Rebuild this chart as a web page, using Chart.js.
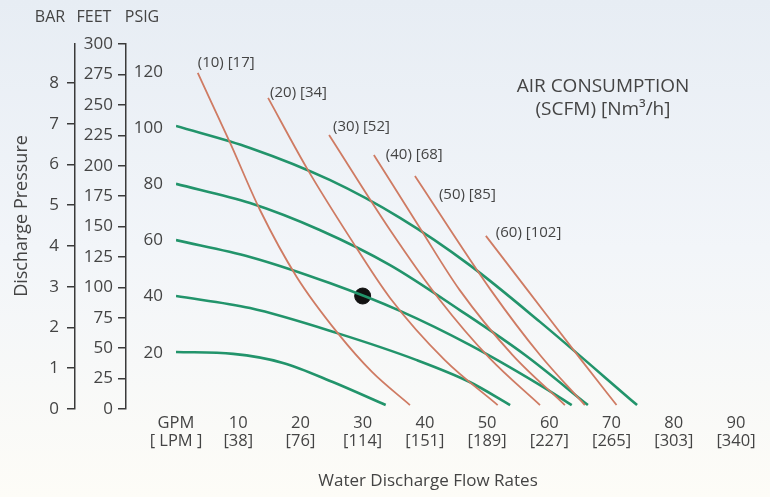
<!DOCTYPE html>
<html>
<head>
<meta charset="utf-8">
<script src="https://cdn.jsdelivr.net/npm/chart.js@4.4.1/dist/chart.umd.min.js"></script>
<style>
    html, body { margin: 0; padding: 0; }
    body {
        width: 770px;
        height: 497px;
        background: linear-gradient(to bottom, #e7edf4 0%, #f2f5f9 50%, #fdfcf7 100%);
    }
</style>
</head>
<body>
<canvas id="pump-chart" width="770" height="497"></canvas>
<script>
// Bottom axis: flow in GPM, with LPM underneath
const gpmTicks = [0, 10, 20, 30, 40, 50, 60, 70, 80, 90];
const gpmLabels = ['GPM', '10', '20', '30', '40', '50', '60', '70', '80', '90'];
const lpmLabels = ['[ LPM ]', '[38]', '[76]', '[114]', '[151]', '[189]', '[227]', '[265]', '[303]', '[340]'];

// Left axes: bar, feet and psig all describe the same pressure
const barTicks = [0, 1, 2, 3, 4, 5, 6, 7, 8];
const feetTicks = [0, 25, 50, 75, 100, 125, 150, 175, 200, 225, 250, 275, 300];
const psigTicks = [20, 40, 60, 80, 100, 120];

// Pressure curves, [GPM, PSIG]
const psig100 = [[0, 100.7], [11.9, 92.9], [24.7, 81.5], [36, 68], [47.2, 51.2], [58.5, 31], [74.1, 1.4]];
const psig80 = [[0, 80.1], [11.9, 73.3], [23.1, 63.7], [34.4, 51.2], [45.6, 35.2], [56.1, 19.2], [66.2, 1.4]];
const psig60 = [[0, 60.1], [11.9, 54.1], [24.7, 44.8], [36, 34.9], [47.2, 22.8], [58.5, 8.5], [63.6, 1.4]];
const psig40 = [[0, 40.2], [11.9, 35.9], [25.9, 27], [38.7, 17.4], [47.2, 9.6], [53.7, 1.4]];
const psig20 = [[0, 20.3], [9.2, 19.6], [17.2, 16.4], [25.2, 9.6], [33.7, 1.4]];

// Air consumption lines, [GPM, PSIG]
const air10 = [[3.5, 119.6], [5.5, 110], [8.7, 94.7], [13.5, 70.8], [19.4, 47], [26, 27], [31.5, 13.2], [37.6, 1.4]];
const air20 = [[14.8, 110.7], [21, 85.8], [28, 60.8], [34.4, 39.5], [43.2, 17.4], [51.7, 1.4]];
const air30 = [[24.6, 97.5], [34.4, 63.7], [42.4, 38.8], [50.4, 18.1], [58.5, 1.4]];
const air40 = [[31.8, 90.4], [39.2, 64.4], [45.6, 42.3], [54.1, 19.2], [62.5, 1.4]];
const air50 = [[38.4, 82.9], [50.6, 42.3], [58.5, 19.2], [65.7, 1.4]];
const air60 = [[49.8, 61.6], [56.5, 42.3], [64.9, 18.1], [70.8, 1.4]];
const airLabels = ['(10) [17]', '(20) [34]', '(30) [52]', '(40) [68]', '(50) [85]', '(60) [102]'];

// Marked duty point
const dutyPoint = [[30, 40.2]];

const FT_PER_PSI = 2.31;
const PSI_PER_BAR = 14.5038;
const maxFeet = 300;
const maxPsi = maxFeet / FT_PER_PSI;
const maxBar = maxPsi / PSI_PER_BAR;

const green = '#22946b';
const red = '#cf7b63';
const textColor = '#444444';
const axisColor = '#3a3a3a';
const fontFamily = '"Open Sans", "Noto Sans", sans-serif';

// where each air label sits relative to the top of its line
const airLabelOffsets = [[0, -10], [2, -5], [4, -8], [12, 0], [24, 19], [10, -3]];

const toPoints = (pairs) => pairs.map(([x, y]) => ({ x: x, y: y }));

const greenSet = (pairs) => ({
    data: toPoints(pairs),
    borderColor: green,
    borderWidth: 2.6,
    pointRadius: 0,
    cubicInterpolationMode: 'monotone',
    yAxisID: 'yPsig',
});

const redSet = (pairs) => ({
    data: toPoints(pairs),
    borderColor: red,
    borderWidth: 1.8,
    pointRadius: 0,
    cubicInterpolationMode: 'monotone',
    yAxisID: 'yPsig',
});

const airSets = [air10, air20, air30, air40, air50, air60].map(redSet);
const pressureSets = [psig100, psig80, psig60, psig40, psig20].map(greenSet);

// Extra text: column headers, axis titles, air line labels
const extraText = {
    id: 'extraText',
    afterDatasetsDraw(chart) {
        const { ctx } = chart;
        const x = chart.scales.x;
        const y = chart.scales.yPsig;
        ctx.save();
        ctx.fillStyle = textColor;
        ctx.textBaseline = 'middle';
        ctx.textAlign = 'center';

        ctx.font = '16px ' + fontFamily;
        ctx.fillText('BAR', 50, 17);
        ctx.fillText('FEET', 94, 17);
        ctx.fillText('PSIG', 142, 17);

        ctx.font = '17px ' + fontFamily;
        ctx.fillText('Water Discharge Flow Rates', 428, 481);

        ctx.save();
        ctx.font = '18px ' + fontFamily;
        ctx.translate(22, 216);
        ctx.rotate(-Math.PI / 2);
        ctx.fillText('Discharge Pressure', 0, 0);
        ctx.restore();

        ctx.font = '19px ' + fontFamily;
        ctx.fillText('AIR CONSUMPTION', 603, 87);
        ctx.fillText('(SCFM) [Nm\u00B3/h]', 603, 110);

        ctx.font = '15px ' + fontFamily;
        ctx.textAlign = 'left';
        airSets.forEach((set, i) => {
            const start = set.data[0];
            const px = x.getPixelForValue(start.x) + airLabelOffsets[i][0];
            const py = y.getPixelForValue(start.y) + airLabelOffsets[i][1];
            ctx.fillText(airLabels[i], px, py);
        });
        ctx.restore();
    },
};

const tickFont = { family: fontFamily, size: 17 };

new Chart(document.getElementById('pump-chart'), {
    type: 'line',
    data: {
        datasets: [
            ...airSets,
            ...pressureSets,
            {
                type: 'scatter',
                data: toPoints(dutyPoint),
                backgroundColor: '#111',
                borderColor: '#111',
                pointRadius: 8,
                yAxisID: 'yPsig',
            },
        ],
    },
    options: {
        responsive: false,
        devicePixelRatio: 1,
        animation: false,
        layout: { padding: { top: 44, right: 34, bottom: 0, left: 0 } },
        plugins: {
            legend: { display: false },
            tooltip: { enabled: false },
        },
        scales: {
            x: {
                type: 'linear',
                min: 0,
                max: 90,
                afterBuildTicks: (s) => { s.ticks = gpmTicks.map((v) => ({ value: v })); },
                afterFit: (s) => { s.height = 88; },
                grid: { display: false, drawTicks: false },
                border: { display: false },
                ticks: {
                    autoSkip: false,
                    maxRotation: 0,
                    padding: 6,
                    color: textColor,
                    font: { family: fontFamily, size: 16.5, lineHeight: 1.05 },
                    callback: (v) => {
                        const i = gpmTicks.indexOf(v);
                        return [gpmLabels[i], lpmLabels[i]];
                    },
                },
            },
            yBar: {
                type: 'linear',
                position: 'left',
                weight: 3,
                min: 0,
                max: maxBar,
                afterBuildTicks: (s) => { s.ticks = barTicks.map((v) => ({ value: v })); },
                afterFit: (s) => { s.width = 75; },
                grid: { drawOnChartArea: false, tickLength: 8, color: axisColor, lineWidth: 1.5 },
                border: { display: true, color: axisColor, width: 1.5 },
                ticks: { padding: 8, color: textColor, font: tickFont },
            },
            yFeet: {
                type: 'linear',
                position: 'left',
                weight: 2,
                min: 0,
                max: maxFeet,
                afterBuildTicks: (s) => { s.ticks = feetTicks.map((v) => ({ value: v })); },
                afterFit: (s) => { s.width = 51; },
                grid: { drawOnChartArea: false, tickLength: 8, color: axisColor, lineWidth: 1.5 },
                border: { display: true, color: axisColor, width: 1.5 },
                ticks: { padding: 5, color: textColor, font: tickFont },
            },
            yPsig: {
                type: 'linear',
                position: 'left',
                weight: 1,
                min: 0,
                max: maxPsi,
                afterBuildTicks: (s) => { s.ticks = psigTicks.map((v) => ({ value: v })); },
                afterFit: (s) => { s.width = 50; },
                grid: { display: false, drawTicks: false },
                border: { display: false },
                ticks: { padding: 13, color: textColor, font: tickFont },
            },
        },
    },
    plugins: [extraText],
});
</script>
</body>
</html>
